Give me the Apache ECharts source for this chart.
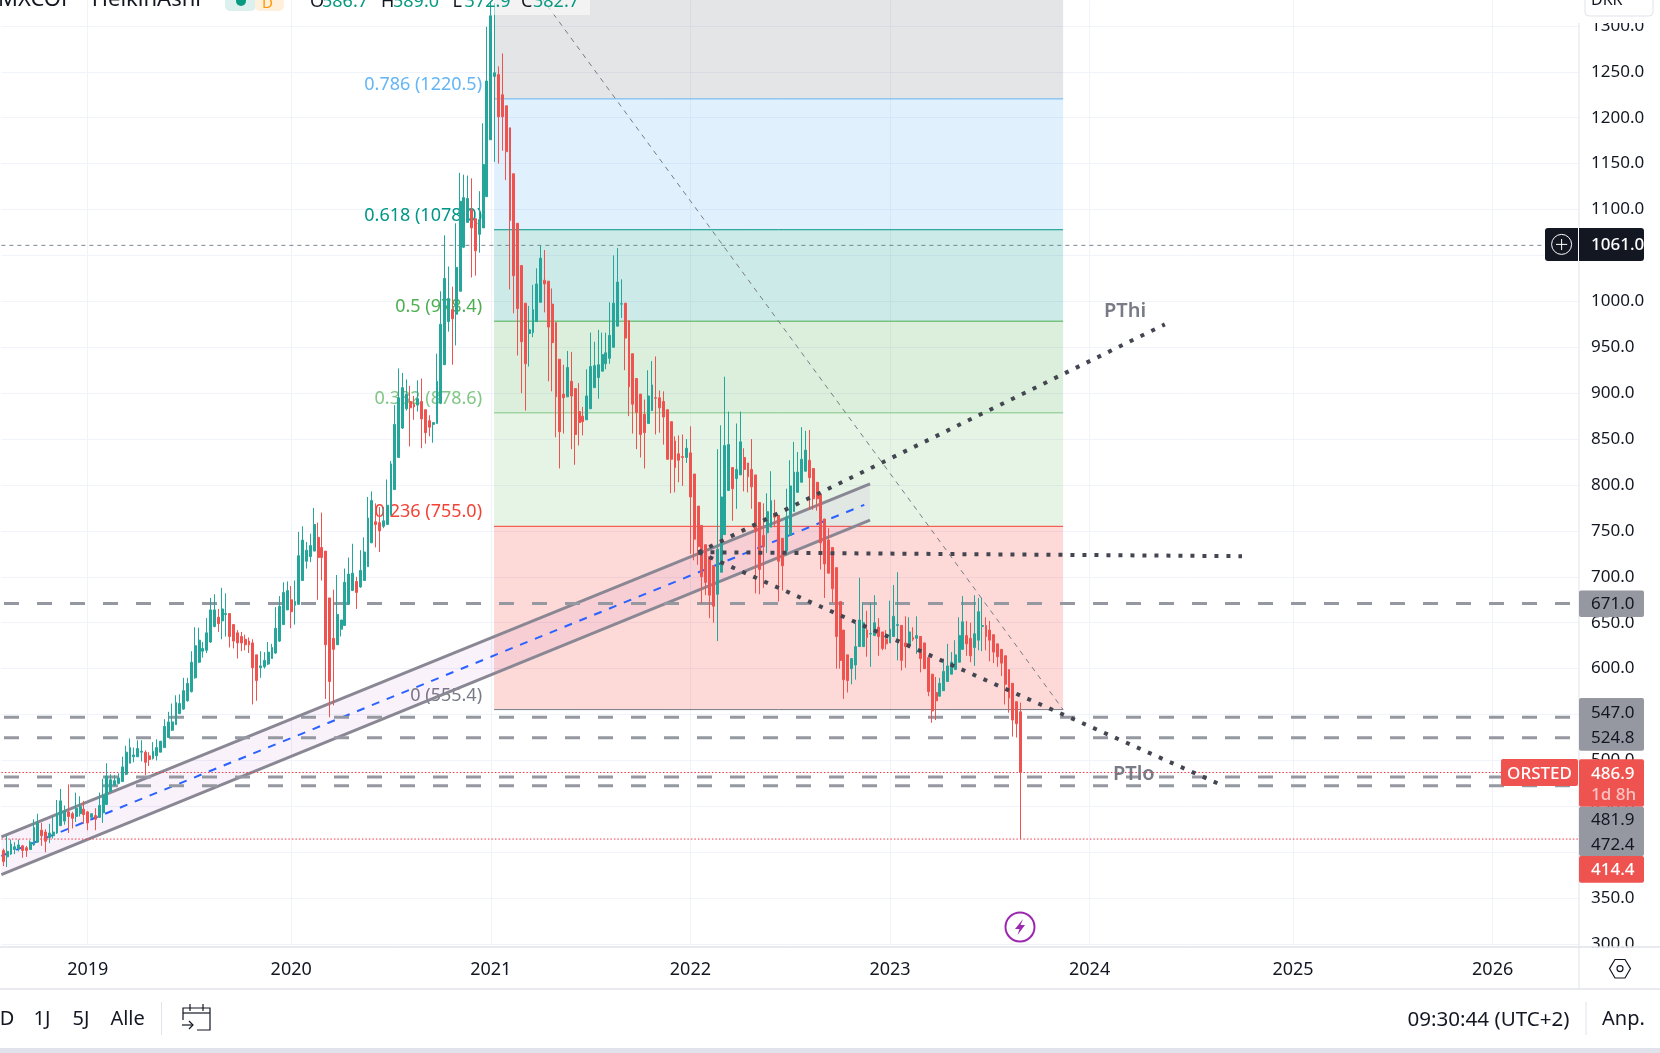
<!DOCTYPE html>
<html>
<head>
<meta charset="utf-8">
<title>ORSTED</title>
<script src="https://cdn.jsdelivr.net/npm/echarts@6/dist/echarts.min.js"></script>
<style>
  html, body { margin: 0; padding: 0; background: #fff; overflow: hidden; }
  #chart { width: 1660px; height: 1053px; }
</style>
</head>
<body>
<div id="chart"></div>
<script>
// weekly heikin ashi candles
var opens = [402,395,398,403,404,407,405,403,408,411,
  424,422,416,418,421,429,434,444,442,439,
  442,447,444,438,440,438,443,452,466,473,
  475,477,485,497,504,504,509,509,505,502,
  505,509,514,525,533,539,551,556,565,575,
  590,607,619,620,629,646,656,652,659,660,
  648,639,635,632,630,628,615,601,602,605,
  611,617,630,648,664,675,669,670,696,717,
  722,728,743,732,728,677,633,626,643,647,
  670,685,695,689,696,711,737,760,759,755,
  757,767,795,830,862,883,891,888,887,891,
  882,870,866,867,889,931,978,991,986,1011,
  1059,1086,1100,1090,1073,1080,1114,1176,1245,1247,
  1225,1213,1189,1139,1085,1039,998,965,966,978,
  999,1023,1022,997,977,937,899,896,913,905,
  880,875,871,883,906,917,924,932,938,950,
  973,997,998,979,943,916,899,877,867,881,
  895,895,891,882,869,848,834,831,830,835,
  812,777,756,735,722,712,681,705,746,794,
  819,807,811,830,824,817,811,781,745,748,
  754,769,767,742,728,745,771,792,803,815,
  827,818,803,790,763,740,732,710,673,642,
  615,600,604,624,624,642,637.6,636,645,640,
  632,628,635,647,647,628,626,634,633,635,
  628,612,594,574,570,576,586,594,599,607,
  621,636,633,623,631,646,647,642,637,627,
  621,614,599,584,564,553]
var closes = [390,401,409,406,408,402,402,411,427,432,
  418,412,421,422,442,456,445,439,437,448,
  450,441,432,442,436,451,462,483,479,478,
  481,493,509,514,506,513,510,498,501,510,
  514,521,537,542,542,563,562,576,584,607,
  625,631,622,639,664,664,649,665,660,635,
  630,628,628,626,626,601,587,603,609,618,
  623,644,668,683,685,662,673,723,740,729,
  734,757,721,721,626,586,621,659,653,694,
  703,704,683,707,727,764,783,757,750,761,
  778,823,866,895,906,899,884,885,894,872,
  857,863,868,913,975,1025,1003,981,1037,1109,
  1113,1112,1080,1055,1089,1149,1240,1311,1249,1201,
  1201,1163,1088,1028,992,956,932,969,991,1019,
  1047,1019,972,955,896,858,895,928,897,855,
  868,869,897,929,930,931,942,944,963,998,
  1021,997.4,960,907,888,879,855,857,897,909,
  894.5,884,874,828,828,819,827,830,840,787,
  741,733,700,694,680,668,730,787,843,844,
  796,817,847,817,809,798,749,708,733,771,
  783,765,717,712,765,799,814,814,828,838,
  808,785,785,737,714,704,687,635,609,588,
  587,611,624,653,650,634,638.3,650,635,622,
  627,643,657,648,609,624,640,632,636,611,
  600,575,554,565,584,597,603,607,615,636,
  651,627,614,638,662,647,635,631,618,613,
  606,583,568,544,540,486.9]
var lows = [385,384,397,398,401,394,395,403,407,411,
  407,400,410,415,420,429,430,421,426,433,
  439,431,424,436,424,438,432,452,466,472,
  474,477,484,497,498,504,499,484,494,501,
  500,509,514,525,532,539,551,555,564,574,
  589,606,612,617,628,645,640,632,635,623,
  622,611,619,620,617,561,565,590,600,604,
  611,616,629,648,664,644,648,670,696,709,
  716,728,675,696,567,547,560,626,635,647,
  670,685,665,688,696,711,737,732,727,753,
  757,767,795,830,861,881,842,871,880,840,
  845,853,846,867,888,931,967,931,952,1011,
  1058,1086,1026,1028,1053,1080,1114,1176,1152,1150,
  1164,1132,1013,987,941,900,881,929,961,978,
  999,988,913,902,852,818,856,896,839,822,
  843,854,871,883,906,894,924,926,932,950,
  973,982,925,875,856,839,830,818,867,881,
  855,857,844,828,791,792,803,799,824,725,
  718,713,671,680,655,650,630,705,746,794,
  761,774,811,793,792,774,682,681,688,726,
  754,754,673,685,723,745,771,792,803,815,
  773,773,772,708,677,704,672,600,600,567,
  574,583,588,624,624,613,602,636,614,620,
  621,628,635,609,598,601,626,630,616,596,
  600,570,541,544,570,576,586,594,599,607,
  621,614,607,603,620,619,620,608,606,602,
  592,561,552,526,525,414.4]
var highs = [404,418,414,411,414,408,407,413,436,442,
  432,425,431,439,457,469,451,474,444,465,
  461,456,445,442,448,465,480,497,485,484,
  486,504,516,524,514,522,522,511,509,520,
  523,521,545,553,562,571,572,590,590,619,
  645,644.5,629,655,677,681,665,688,682,660,
  648,642,640,637,634,632,615,619,618,629,
  627,667,679,694,695,690,696,749,755,738,
  747,775,759,770,728,677,686,702,653,709,
  721,736,700,729,743,787,793,780,776,776,
  806,826,887,927,922,915,908,897,914,916,
  882,876,868,943,1011,1072,1038,1016,1085,1140,
  1138,1137,1134,1090,1120,1194,1299,1327,1325,1256,
  1270,1213,1189,1139,1085,1039,998,995,1018,1036,
  1061,1056,1022,1014,977,937,931,946,945,905,
  911,885,926,966,956,969,966,966,999,1050,
  1058,1024,998,979,943,916,899,893,925,935,
  940,903,902,882,869,853,854,855,850,864,
  812,777,756,735,722,712,839,865,918,880,
  819,867,880,840,824,850,811,781,780,791,
  815,784,767,742,796,827,847,836,863,859,
  860,818,803,790,763,753,732,710,673,642,
  615,611,650,699,672,663,672,680,655,640,
  642,674,691,705,647,657,656,645,657,635,
  628,612,594,591,590,611,627,618,631,656,
  679,652,650,680,677,677,656,652,637,627,
  621,614,599,584,564,563]

// time scale: number of weekly slots and where each year starts
var weekCount = 411
var yearTicks = [22, 75, 127, 179, 231, 283, 336, 388]
var yearLabels = ['2019', '2020', '2021', '2022', '2023', '2024', '2025', '2026']

// fib retracement
var fibRatios = ['0', '0.236', '0.382', '0.5', '0.618', '0.786', '1']
var fibPrices = [555.4, 755.0, 878.6, 978.4, 1078.0, 1220.5, 1401.2]
var fibLabelPrices = ['555.4', '755.0', '878.6', '978.4', '1078.0', '1220.5']
var fibLineColors = ['#787b86', '#f44336', '#81c784', '#4caf50', '#009688', '#64b5f6']
var fibFillColors = ['rgba(244,67,54,0.2)', 'rgba(129,199,132,0.2)', 'rgba(76,175,80,0.2)',
  'rgba(0,150,136,0.2)', 'rgba(100,181,246,0.2)', 'rgba(120,123,134,0.2)']
var fibWeeks = [128.35, 276.6]

// drawn lines, as [week, price]
var channelUpper = [[0, 416.7], [226.3, 801.3]]
var channelLower = [[0, 375.6], [226.3, 761.7]]
var channelMiddle = [[0, 396], [224.8, 778.4]]
var fibTrend = [[128.35, 1401.2], [276.6, 555.4]]
var ptHigh = [[181.6, 726.8], [303.1, 974.9]]
var ptMid = [[181.6, 726.8], [323.2, 722.5]]
var ptLow = [[181.6, 726.8], [317.5, 473.9]]

var levelPrices = [671, 547, 524.8, 481.9, 472.4]
var lastPrice = 486.9
var lowPrice = 414.4
var crossPrice = 1061

var font = '"Noto Sans", sans-serif'
var ink = '#131722'

var candleRows = opens.map(function (o, i) {
  return [o, closes[i], lows[i], highs[i]]
})
var categories = []
for (var w = 0; w < weekCount; w++) {
  var at = yearTicks.indexOf(w)
  categories.push(at >= 0 ? yearLabels[at] : 'w' + w)
}
function isYear(index) {
  return yearTicks.indexOf(index) >= 0
}

function lineSeries(name, points, style, z) {
  return {
    name: name,
    type: 'line',
    xAxisIndex: 1,
    data: points,
    showSymbol: false,
    silent: true,
    animation: false,
    z: z,
    lineStyle: style
  }
}

function renderFib(params, api) {
  var k = params.dataIndex
  var left = api.coord([fibWeeks[0], api.value(0)])
  var right = api.coord([fibWeeks[1], api.value(1)])
  return {
    type: 'group',
    children: [{
      type: 'rect',
      shape: { x: left[0], y: right[1], width: right[0] - left[0], height: left[1] - right[1] },
      style: { fill: fibFillColors[k] }
    }, {
      type: 'line',
      shape: { x1: left[0], y1: left[1], x2: right[0], y2: left[1] },
      style: { stroke: fibLineColors[k], lineWidth: 1 }
    }, {
      type: 'text',
      style: {
        x: left[0] - 12,
        y: left[1] - 14,
        text: fibRatios[k] + ' (' + fibLabelPrices[k] + ')',
        fill: fibLineColors[k],
        font: '18px ' + font,
        align: 'right',
        verticalAlign: 'middle'
      }
    }]
  }
}

function renderChannel(params, api) {
  var pts = [channelUpper[0], channelUpper[1], channelLower[1], channelLower[0]].map(function (p) {
    return api.coord(p)
  })
  return { type: 'polygon', shape: { points: pts }, style: { fill: 'rgba(156,39,176,0.06)' } }
}

var series = [{
  name: 'fib',
  type: 'custom',
  xAxisIndex: 1,
  silent: true,
  animation: false,
  z: 1,
  renderItem: renderFib,
  data: fibPrices.slice(0, 6).map(function (p, k) { return [p, fibPrices[k + 1]] })
}, {
  name: 'channel',
  type: 'custom',
  xAxisIndex: 1,
  silent: true,
  animation: false,
  z: 1,
  renderItem: renderChannel,
  data: [[0, 0]]
},
  lineSeries('channelUpper', channelUpper, { color: '#8a8794', width: 3 }, 2),
  lineSeries('channelLower', channelLower, { color: '#8a8794', width: 3 }, 2),
  lineSeries('channelMiddle', channelMiddle, { color: '#2962ff', width: 2, type: [8, 8] }, 2),
  lineSeries('fibTrend', fibTrend, { color: '#787b86', width: 1, type: [5, 5] }, 2)
]

levelPrices.forEach(function (p, i) {
  series.push(lineSeries('level' + i, [[0.68, p], [408.7, p]],
    { color: '#9598a1', width: 3, type: [15, 18] }, 2))
})
series.push(lineSeries('last', [[0, lastPrice], [390.8, lastPrice]], { color: '#f23645', width: 1, type: [1.5, 2] }, 2))
series.push(lineSeries('low', [[0, lowPrice], [weekCount, lowPrice]], { color: '#f23645', width: 1, type: [1.5, 2] }, 2))
series.push(lineSeries('cross', [[0, crossPrice], [401.9, crossPrice]], { color: '#758696', width: 1, type: [4, 4] }, 2))

series.push({
  name: 'ORSTED',
  type: 'candlestick',
  xAxisIndex: 0,
  data: candleRows,
  barWidth: 2.4,
  silent: true,
  animation: false,
  z: 3,
  itemStyle: {
    color: '#26a69a',
    color0: '#ef5350',
    borderColor: '#26a69a',
    borderColor0: '#ef5350',
    borderWidth: 1
  }
})

var dotted = { color: '#434651', width: 4, type: [4, 8] }
series.push(lineSeries('PThi', ptHigh, dotted, 4))
series.push(lineSeries('PTmid', ptMid, dotted, 4))
series.push(lineSeries('PTlo', ptLow, dotted, 4))

// screen furniture around the plot: price badges, legend, toolbar
function txt(x, y, text, opts) {
  opts = opts || {}
  return {
    type: 'text',
    z: opts.z || 20,
    style: {
      x: x,
      y: y,
      text: text,
      fill: opts.fill || ink,
      font: (opts.weight ? opts.weight + ' ' : '') + (opts.size || 17) + 'px ' + font,
      align: opts.align || 'left',
      verticalAlign: opts.va || 'middle'
    }
  }
}
function box(x, y, w, h, fill, r, z) {
  return { type: 'rect', z: z || 18, shape: { x: x, y: y, width: w, height: h, r: r || 0 }, style: { fill: fill } }
}
function seg(x1, y1, x2, y2, color, width, z) {
  return {
    type: 'line',
    z: z || 19,
    shape: { x1: x1, y1: y1, x2: x2, y2: y2 },
    style: { stroke: color, lineWidth: width || 1 }
  }
}
function poly(points, color, width, closed) {
  return {
    type: closed ? 'polygon' : 'polyline',
    z: 20,
    shape: { points: points },
    style: { fill: null, stroke: color, lineWidth: width || 1.2 }
  }
}

var grey = '#9598a1'
var red = '#ef5350'
var legendPairs = [[310, 'O', '586.7'], [381, 'H', '589.0'], [452.6, 'L', '372.9'], [521, 'C', '382.7']]
var graphics = [
  // covers for the clipped axis labels at both ends
  box(1580, 0, 80, 23, '#fff', 0, 5),
  box(1580, 947.5, 80, 42, '#fff', 0, 5),
  seg(0, 947, 1660, 947, '#e0e3eb', 1.5, 6),
  seg(0, 989, 1660, 989, '#e0e3eb', 1.5, 6),
  seg(1579, 23, 1579, 989, '#e0e3eb', 1, 6),

  // top left legend
  box(494, 0, 96, 15, 'rgba(255,255,255,0.55)', 0, 8),
  txt(-2, 11, 'MXCOP · HeikinAshi', { va: 'bottom', size: 22 }),
  box(225, -6, 31, 17, '#dcf1ee', 5),
  box(255, -6, 29, 17, '#fff0dc', 5),
  { type: 'circle', z: 20, shape: { cx: 241, cy: 1, r: 5 }, style: { fill: '#089981' } },
  txt(262, 11, 'D', { fill: '#ff9800', va: 'bottom', size: 15 }),

  // top right currency box
  { type: 'rect', z: 18, shape: { x: 1585, y: -8, width: 68, height: 24, r: 4 }, style: { fill: '#fff', stroke: '#e0e3eb', lineWidth: 1 } },
  txt(1591, 8, 'DKK', { va: 'bottom', size: 16 }),

  // crosshair badge
  box(1545, 228, 99, 33, ink, 3),
  seg(1578.5, 228, 1578.5, 261, '#fff', 1),
  { type: 'circle', z: 20, shape: { cx: 1561.6, cy: 244.4, r: 10 }, style: { fill: null, stroke: '#fff', lineWidth: 1 } },
  seg(1556, 244.4, 1567.2, 244.4, '#fff', 1, 20),
  seg(1561.6, 239, 1561.6, 250, '#fff', 1, 20),
  txt(1591, 245.5, '1061.0', { fill: '#fff', weight: 500 }),

  // price badges
  box(1579, 590.4, 65, 26.6, grey, 2),
  txt(1591, 604, '671.0'),
  box(1579, 698, 65, 52.7, grey, 2),
  txt(1591, 712.7, '547.0'),
  txt(1591, 738.3, '524.8'),
  box(1501, 759, 77, 27, red, 2),
  txt(1539.5, 773.7, 'ORSTED', { fill: '#fff', align: 'center', weight: 500 }),
  box(1579, 759.3, 65, 47.4, red, 2),
  txt(1591, 773.7, '486.9', { fill: '#fff', weight: 500 }),
  txt(1591, 795, '1d 8h', { fill: 'rgba(255,255,255,0.65)', weight: 500 }),
  box(1579, 806.7, 65, 49.3, grey, 2),
  txt(1591, 820, '481.9'),
  txt(1591, 845, '472.4'),
  box(1579, 856, 65, 26.7, red, 2),
  txt(1591, 870.3, '414.4', { fill: '#fff', weight: 500 }),

  // earnings marker
  { type: 'circle', z: 20, shape: { cx: 1020, cy: 927, r: 14.5 }, style: { fill: '#fff', stroke: '#9c27b0', lineWidth: 2 } },
  { type: 'polygon', z: 21, shape: { points: [[1023, 919], [1015, 929], [1019.5, 929], [1017.5, 935], [1025, 925], [1020.5, 925]] }, style: { fill: '#9c27b0' } },

  // labels on the drawn lines
  txt(1104, 311, 'PThi', { fill: '#787b86', size: 20, weight: 600 }),
  txt(1113, 774, 'PTlo', { fill: '#787b86', size: 20, weight: 600 }),

  // settings icon
  poly([[1609.5, 968.6], [1615, 959.5], [1625, 959.5], [1630.5, 968.6], [1625, 978], [1615, 978]], ink, 1.2, true),
  { type: 'circle', z: 20, shape: { cx: 1620, cy: 968.6, r: 3 }, style: { fill: null, stroke: ink, lineWidth: 1.2 } },

  // bottom toolbar
  txt(7, 1019.7, 'D', { align: 'center', size: 20 }),
  txt(42, 1019.7, '1J', { align: 'center', size: 20 }),
  txt(81, 1019.7, '5J', { align: 'center', size: 20 }),
  txt(127.6, 1019.7, 'Alle', { align: 'center', size: 20 }),
  seg(161.5, 1002, 161.5, 1035, '#e0e3eb', 1),
  poly([[183, 1020], [183, 1008], [210, 1008], [210, 1030], [197, 1030]], ink, 1.2),
  seg(183, 1013, 210, 1013, ink, 1.2, 20),
  seg(190, 1004, 190, 1011, ink, 1.2, 20),
  seg(203, 1004, 203, 1011, ink, 1.2, 20),
  seg(182, 1025, 193, 1025, ink, 1.2, 20),
  poly([[189, 1021], [193, 1025], [189, 1029]], ink, 1.2),
  txt(1569.5, 1019.7, '09:30:44 (UTC+2)', { align: 'right', size: 20.6 }),
  seg(1586, 1002, 1586, 1035, '#e0e3eb', 1),
  txt(1602, 1019.7, 'Anp.', { size: 20 }),
  box(0, 1048, 1660, 5, '#e0e3eb', 0)
]
legendPairs.forEach(function (p) {
  graphics.push(txt(p[0], 11, p[1], { va: 'bottom', size: 18 }))
  graphics.push(txt(p[0] + 12, 11, p[2], { va: 'bottom', fill: '#089981', size: 18 }))
})

var chart = echarts.init(document.getElementById('chart'), null, { renderer: 'canvas' })
chart.setOption({
  animation: false,
  backgroundColor: '#fff',
  grid: { left: 1.38, right: 81, top: 0.5, bottom: 108.9, containLabel: false },
  xAxis: [{
    type: 'category',
    data: categories,
    boundaryGap: true,
    offset: 3.4,
    axisLine: { show: false },
    axisTick: { show: false },
    axisLabel: {
      interval: isYear,
      color: ink,
      fontSize: 18,
      fontFamily: font,
      margin: 13
    },
    splitLine: {
      show: true,
      interval: isYear,
      alignWithLabel: true,
      lineStyle: { color: '#f0f3fa', width: 1 }
    }
  }, {
    type: 'value',
    min: 0,
    max: weekCount,
    show: false,
    splitLine: { show: false }
  }],
  yAxis: [{
    type: 'value',
    position: 'right',
    min: 300,
    max: 1327.67,
    interval: 50,
    axisLine: { show: false },
    axisTick: { show: false },
    axisLabel: {
      color: ink,
      fontSize: 17,
      fontFamily: font,
      margin: 12,
      padding: [2, 0, 0, 0],
      showMaxLabel: false,
      formatter: function (v) { return v.toFixed(1) }
    },
    splitLine: { showMaxLine: false, lineStyle: { color: '#f0f3fa', width: 1 } }
  }],
  series: series,
  graphic: { elements: graphics }
})
</script>
</body>
</html>
